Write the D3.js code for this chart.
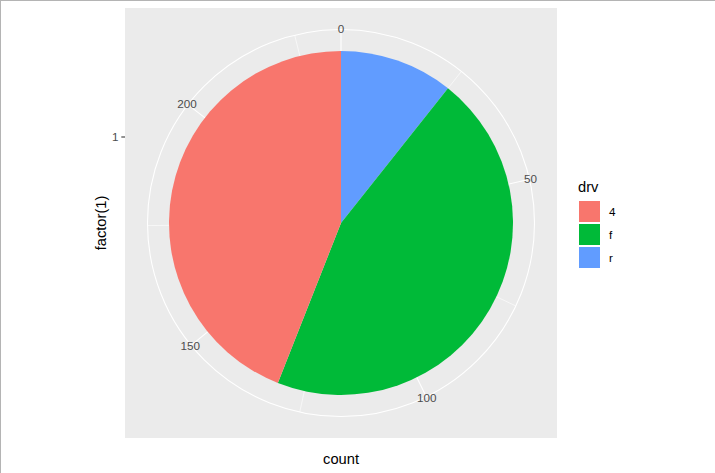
<!DOCTYPE html>
<html><head><meta charset="utf-8">
<script src="https://cdn.jsdelivr.net/npm/d3@7"></script>
<style>body{margin:0;background:#fff}svg{display:block}text{font-family:"Liberation Sans",Arial,sans-serif}</style>
</head><body><svg id="c" width="715" height="473"></svg>
<script>
// Data (mpg drv counts)
const categories = ["4", "f", "r"];
const counts = [103, 106, 25];
const colors = ["#F8766D", "#00BA38", "#619CFF"];
const thetaBreaks = [0, 50, 100, 150, 200];
const thetaMinor = [25, 75, 125, 175, 225];
const rLevels = ["1"];

const svg = d3.select("#c");
const W = 715, H = 473;
const px = 125, py = 8, pw = 432, ph = 430;
const cx = px + pw / 2, cy = py + ph / 2;
const side = Math.min(pw, ph);

const total = d3.sum(counts);
const theta = d3.scaleLinear().domain([0, total]).range([0, 2 * Math.PI]);
// r: discrete, bar (width 1) spans 0.5..1.5 mapped to [0, 0.4]
const rScale = d3.scaleLinear().domain([0.5, 1.5]).range([0, 0.4 * side]);
const outerR = 0.45 * side;

// frame lines
svg.append("line").attr("x1",0).attr("x2",W).attr("y1",0.5).attr("y2",0.5).attr("stroke","#b4b4b4");
svg.append("line").attr("x1",0.5).attr("x2",0.5).attr("y1",0).attr("y2",H).attr("stroke","#b4b4b4");

// panel
svg.append("rect").attr("x",px).attr("y",py).attr("width",pw).attr("height",ph).attr("fill","#EBEBEB");
const g = svg.append("g").attr("transform",`translate(${cx},${cy})`);

// r grid circle(s)
rLevels.forEach((l,i)=>{
  g.append("circle").attr("r", rScale(i+1)).attr("fill","none").attr("stroke","#fff").attr("stroke-width",1.07);
});
g.append("circle").attr("r", outerR).attr("fill","none").attr("stroke","#fff").attr("stroke-width",1.07);
// theta grid
thetaMinor.forEach(v=>{
  const a = theta(v);
  g.append("line").attr("x1",0).attr("y1",0).attr("x2",outerR*Math.sin(a)).attr("y2",-outerR*Math.cos(a))
   .attr("stroke","#fff").attr("stroke-width",0.6);
});
thetaBreaks.forEach(v=>{
  const a = theta(v);
  g.append("line").attr("x1",0).attr("y1",0).attr("x2",outerR*Math.sin(a)).attr("y2",-outerR*Math.cos(a))
   .attr("stroke","#fff").attr("stroke-width",1.07);
});

// stacked slices: ggplot stacks in reverse level order
let cum = 0;
const slices = [];
for (let i = categories.length - 1; i >= 0; i--) {
  slices.push({cat: categories[i], color: colors[i], start: cum, end: cum + counts[i]});
  cum += counts[i];
}
const arc = d3.arc().innerRadius(rScale(0.5)).outerRadius(rScale(1.5));
g.selectAll("path.slice").data(slices).join("path").attr("class","slice")
  .attr("d", d => arc({startAngle: theta(d.start), endAngle: theta(d.end)}))
  .attr("fill", d => d.color);

// theta labels
thetaBreaks.forEach(v=>{
  const a = theta(v);
  g.append("text").attr("x",(outerR+1)*Math.sin(a)).attr("y",-(outerR+1)*Math.cos(a))
   .attr("text-anchor","middle").attr("dy","0.35em").attr("font-size","11.7px").attr("fill","#4D4D4D").text(v);
});

// left axis (r)
rLevels.forEach((l,i)=>{
  const y = cy - rScale(i+1);
  svg.append("line").attr("x1",px-3.7).attr("x2",px).attr("y1",y).attr("y2",y).attr("stroke","#333").attr("stroke-width",1.07);
  svg.append("text").attr("x",px-6.5).attr("y",y).attr("dy","0.35em").attr("text-anchor","end")
   .attr("font-size","11.7px").attr("fill","#4D4D4D").text(l);
});

// axis titles
svg.append("text").attr("x",cx).attr("y",464).attr("text-anchor","middle").attr("font-size","14.7px").attr("fill","#000").text("count");
svg.append("text").attr("transform",`translate(106,${cy}) rotate(-90)`).attr("text-anchor","middle").attr("font-size","14.7px").attr("fill","#000").text("factor(1)");

// legend
svg.append("text").attr("x",578).attr("y",192).attr("font-size","14.7px").attr("fill","#000").text("drv");
categories.forEach((c,i)=>{
  const y = 200 + i*23;
  svg.append("rect").attr("x",578.5).attr("y",y+0.5).attr("width",22).attr("height",22).attr("fill",colors[i]).attr("stroke","#fff").attr("stroke-width",1);
  svg.append("text").attr("x",609).attr("y",y+11.5).attr("dy","0.35em").attr("font-size","11.7px").attr("fill","#000").text(c);
});
</script></body></html>
